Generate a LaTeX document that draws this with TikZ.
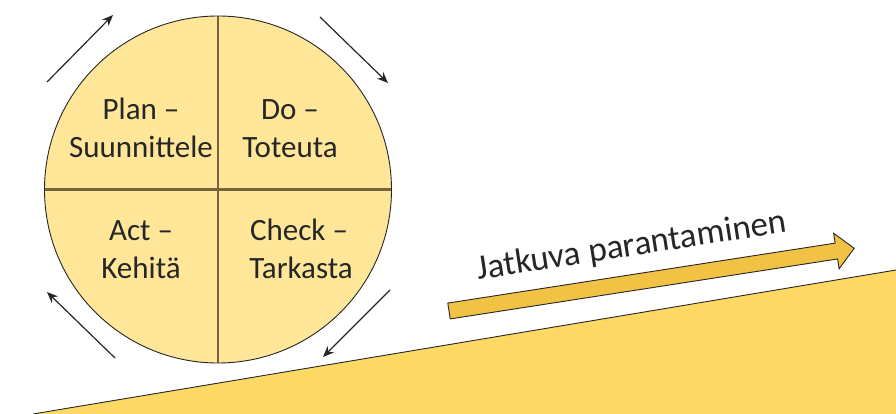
\documentclass[tikz,border=0pt]{standalone}
\usepackage{fontspec}
\setmainfont{Carlito}
\usetikzlibrary{arrows.meta}
\definecolor{pale}{HTML}{FFE699}
\definecolor{ground}{HTML}{FFD966}
\definecolor{gold}{HTML}{F2C244}
\definecolor{divider}{HTML}{75653F}
\definecolor{ink}{HTML}{262626}
\tikzset{
  quad/.style={anchor=base, inner sep=0pt, text=ink, font=\fontsize{31}{38}\selectfont},
  cycarrow/.style={line width=1.2pt, draw=ink, -{Stealth[length=11pt,width=9pt]}},
  outline/.style={draw=ink, line width=0.9pt},
}
\begin{document}
\begin{tikzpicture}[x=1pt, y=-1pt]
  \useasboundingbox (0,0) rectangle (896,414);

  % rising ground
  \fill[ground] (33,414) -- (896,270) -- (896,414) -- cycle;
  \draw[outline] (33,414) -- (896,270);

  % PDCA wheel
  \coordinate (c) at (218,189.5);
  \fill[pale] (c) circle[radius=173.5];
  \draw[divider, line width=2.2pt] (218,16) -- (218,363);
  \draw[divider, line width=2.2pt] (44.5,189.5) -- (391.5,189.5);
  \draw[outline] (c) circle[radius=173.5];

  \node[quad] (plan1) at (141,120) {Plan –};
  \node[quad] (plan2) at (141,158) {Suunnittele};
  \node[quad] (do1) at (290,120) {Do –};
  \node[quad] (do2) at (290,158) {Toteuta};
  \node[quad] (act1) at (141,240) {Act –};
  \node[quad] (act2) at (141,278) {Kehitä};
  \node[quad] (chk1) at (299,240) {Check –};
  \node[quad] (chk2) at (301,278) {Tarkasta};

  % cycle arrows around the wheel
  \coordinate (a1s) at (47,82);   \coordinate (a1e) at (113,15);
  \coordinate (a2s) at (320,17);  \coordinate (a2e) at (388,83);
  \coordinate (a3s) at (390,290); \coordinate (a3e) at (323,357);
  \coordinate (a4s) at (115,358); \coordinate (a4e) at (47,292);
  \draw[cycarrow] (a1s) -- (a1e);
  \draw[cycarrow] (a2s) -- (a2e);
  \draw[cycarrow] (a3s) -- (a3e);
  \draw[cycarrow] (a4s) -- (a4e);

  % block arrow for continuous improvement
  \begin{scope}[shift={(449,311)}, rotate=8.8]
    \filldraw[fill=gold, draw=ink, line width=0.9pt, line join=miter]
      (0,-8) -- (392,-8) -- (392,-18) -- (410,0) -- (392,18) -- (392,8) -- (0,8) -- cycle;
  \end{scope}
  \node[anchor=base, inner sep=0pt, text=ink, rotate=8.8,
        font=\fontsize{35}{42}\selectfont] (kaizen) at (633,256) {Jatkuva parantaminen};
\end{tikzpicture}
\end{document}
